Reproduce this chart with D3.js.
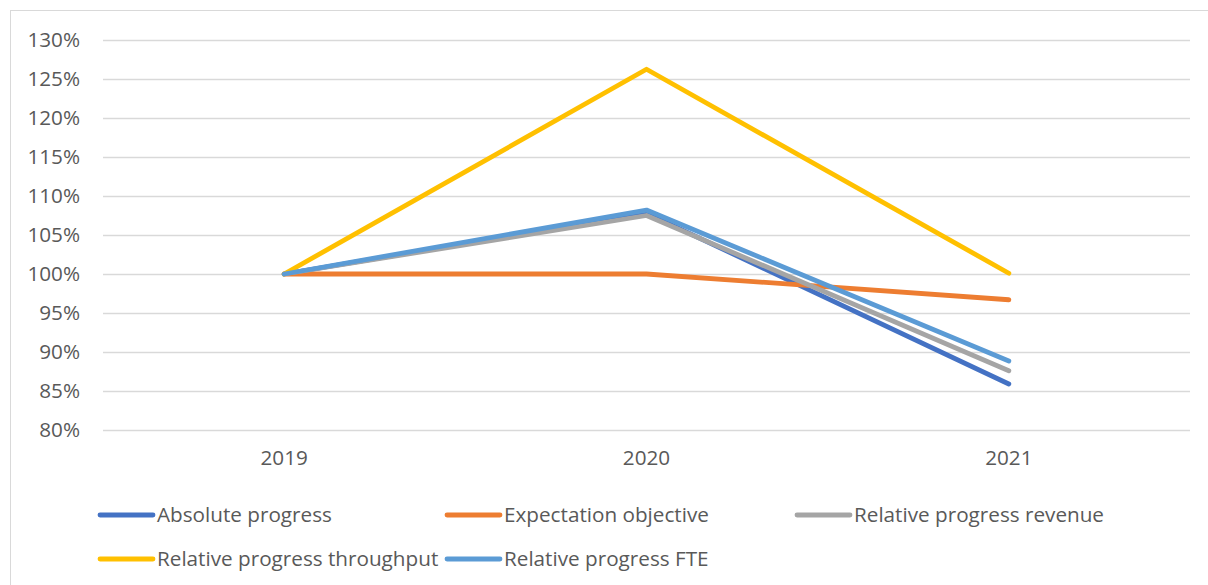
<!DOCTYPE html>
<html><head><meta charset="utf-8">
<script src="https://cdn.jsdelivr.net/npm/d3@7"></script>
<style>
html,body{margin:0;padding:0;background:#fff;}
svg{display:block;}
text{font-family:"Open Sans",sans-serif;fill:#595959;}
</style></head>
<body>
<svg id="chart" width="1208" height="585"></svg>
<script>
const years = ["2019", "2020", "2021"];
const seriesNames = ["Absolute progress", "Expectation objective", "Relative progress revenue", "Relative progress throughput", "Relative progress FTE"];
const seriesColors = ["#4472C4", "#ED7D31", "#A5A5A5", "#FFC000", "#5B9BD5"];
const absoluteProgress = [1.00, 1.078, 0.859];
const expectationObjective = [1.00, 1.00, 0.967];
const relativeRevenue = [1.00, 1.075, 0.876];
const relativeThroughput = [1.00, 1.2625, 1.001];
const relativeFTE = [1.00, 1.082, 0.8885];
const yTicks = [0.80, 0.85, 0.90, 0.95, 1.00, 1.05, 1.10, 1.15, 1.20, 1.25, 1.30];

const seriesValues = [absoluteProgress, expectationObjective, relativeRevenue, relativeThroughput, relativeFTE];
const FONT = '"Open Sans",sans-serif';
const FS = 20.7;

const svg = d3.select("#chart");
svg.append("rect").attr("x", 10.5).attr("y", 10.5).attr("width", 1220).attr("height", 600)
  .attr("fill", "none").attr("stroke", "#D9D9D9").attr("stroke-width", 1);

const x = d3.scaleBand().domain(years).range([103, 1190]);
const y = d3.scaleLinear().domain([0.80, 1.30]).range([430, 40]);

svg.append("g").selectAll("line").data(yTicks).join("line")
  .attr("x1", 103).attr("x2", 1190)
  .attr("y1", d => Math.round(y(d)) + 0.5).attr("y2", d => Math.round(y(d)) + 0.5)
  .attr("stroke", "#D9D9D9").attr("stroke-width", 1.5);

const yAxis = d3.axisLeft(y).tickValues(yTicks).tickFormat(d3.format(".0%")).tickSize(0).tickPadding(0);
const gy = svg.append("g").attr("transform", "translate(80,0)").call(yAxis);
gy.select(".domain").remove();
gy.selectAll("text").attr("font-size", FS).attr("fill", "#595959").style("font-family", FONT);

const xAxis = d3.axisBottom(x).tickSize(0).tickPadding(0);
const gx = svg.append("g").attr("transform", "translate(0,450)").call(xAxis);
gx.select(".domain").remove();
gx.selectAll("text").attr("font-size", FS).attr("fill", "#595959").attr("dy", "0.71em").style("font-family", FONT);

const line = d3.line().x((d, i) => x(years[i]) + x.bandwidth() / 2).y(d => y(d));
svg.append("g").selectAll("path").data(seriesValues).join("path")
  .attr("d", d => line(d))
  .attr("fill", "none")
  .attr("stroke", (d, i) => seriesColors[i])
  .attr("stroke-width", 4.8)
  .attr("stroke-linecap", "round")
  .attr("stroke-linejoin", "round");

const legendPos = [[98, 515], [445, 515], [795, 515], [98, 559], [445, 559]];
const lg = svg.append("g").selectAll("g").data(seriesNames).join("g")
  .attr("transform", (d, i) => `translate(${legendPos[i][0]},${legendPos[i][1]})`);
lg.append("line").attr("x1", 2).attr("x2", 55).attr("y1", 0).attr("y2", 0)
  .attr("stroke", (d, i) => seriesColors[i]).attr("stroke-width", 4.8).attr("stroke-linecap", "round");
lg.append("text").attr("x", 59).attr("y", 0).attr("dy", "0.35em").attr("font-size", FS)
  .style("font-family", FONT).text(d => d);
</script>
</body></html>
